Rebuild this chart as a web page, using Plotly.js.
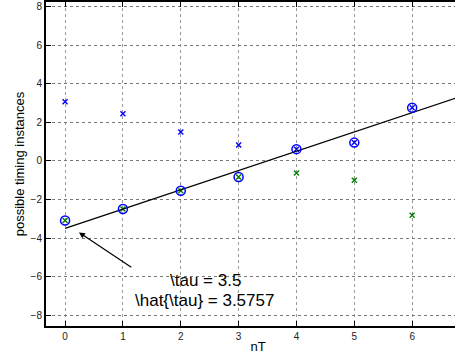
<!DOCTYPE html>
<html>
<head>
<meta charset="utf-8">
<script src="https://cdn.plot.ly/plotly-3.0.1.min.js"></script>
<style>
html,body{margin:0;padding:0;overflow:hidden;background:#fff;}
#chart{width:470px;height:361px;}
</style>
</head>
<body>
<div id="chart"></div>
<script>
// Data
const nT = [0, 1, 2, 3, 4, 5, 6];
const upperCandidates = [3.07, 2.45, 1.50, 0.82, 0.61, 0.95, 2.76];   // blue x
const lowerCandidates = [-3.09, -2.49, -1.55, -0.83, -0.63, -1.00, -2.82]; // green x
const selected = [-3.09, -2.49, -1.55, -0.83, 0.61, 0.95, 2.76];       // circled
const fitX = [0, 7];
const fitY = [-3.5, 3.5];
const tauText = "\\tau = 3.5";
const tauHatText = "\\hat{\\tau} = 3.5757";
const xTicks = [0, 1, 2, 3, 4, 5, 6];
const yTicks = [-8, -6, -4, -2, 0, 2, 4, 6, 8];

const traces = [
  {x: nT, y: lowerCandidates, mode: 'markers', type: 'scatter',
   marker: {symbol: 'x-thin-open', size: 5, color: '#008000', line: {color: '#008000', width: 1.4}}},
  {x: nT, y: upperCandidates, mode: 'markers', type: 'scatter',
   marker: {symbol: 'x-thin-open', size: 5, color: '#0000ff', line: {color: '#0000ff', width: 1.4}}},
  {x: fitX, y: fitY, mode: 'lines', type: 'scatter',
   line: {color: '#000', width: 1.3}},
  {x: nT, y: selected, mode: 'markers', type: 'scatter',
   marker: {symbol: 'circle-open', size: 9, color: '#0000ff', line: {color: '#0000ff', width: 1.5}}}
];

const font = {family: 'Liberation Sans, Arial, sans-serif', color: '#000'};

const layout = {
  width: 470, height: 361,
  margin: {l: 46, r: 0, t: 2, b: 35},
  showlegend: false,
  paper_bgcolor: '#fff', plot_bgcolor: '#fff',
  font: font,
  xaxis: {
    range: [-0.33, 7.0], tickvals: xTicks, ticktext: xTicks.map(String),
    ticks: 'inside', ticklen: 5, tickcolor: '#000', tickwidth: 1,
    showline: true, linecolor: '#000', linewidth: 2, mirror: 'ticks',
    showgrid: true, gridcolor: '#999', griddash: 'dot', gridwidth: 1,
    zeroline: false, tickfont: {size: 10, color: '#222', family: font.family},
    title: {text: 'nT', font: {size: 13, color: '#000'}, standoff: 1},
    automargin: false
  },
  yaxis: {
    range: [-8.56, 8.24], tickvals: yTicks, ticktext: yTicks.map(v => v < 0 ? '\u2212' + Math.abs(v) : String(v)),
    ticks: 'inside', ticklen: 5, tickcolor: '#000', tickwidth: 1,
    showline: true, linecolor: '#000', linewidth: 2, mirror: 'ticks',
    showgrid: true, gridcolor: '#777', griddash: 'dot', gridwidth: 1,
    zeroline: false, tickfont: {size: 10, color: '#222', family: font.family},
    title: {text: 'possible timing instances', font: {size: 13, color: '#000'}, standoff: 3},
    automargin: false
  },
  annotations: [
    {x: 0.24, y: -3.71, ax: 1.17, ay: -5.56, axref: 'x', ayref: 'y', xref: 'x', yref: 'y',
     text: '', showarrow: true, arrowhead: 2, arrowsize: 1, arrowwidth: 1.2, arrowcolor: '#000', standoff: 0},
    {x: 2.42, y: -6.18, xref: 'x', yref: 'y', text: tauText, showarrow: false,
     xanchor: 'center', yanchor: 'middle', font: {size: 17, color: '#000', family: font.family}},
    {x: 2.41, y: -7.22, xref: 'x', yref: 'y', text: tauHatText, showarrow: false,
     xanchor: 'center', yanchor: 'middle', font: {size: 17, color: '#000', family: font.family}}
  ]
};

Plotly.newPlot('chart', traces, layout, {staticPlot: true, displayModeBar: false});
</script>
</body>
</html>
